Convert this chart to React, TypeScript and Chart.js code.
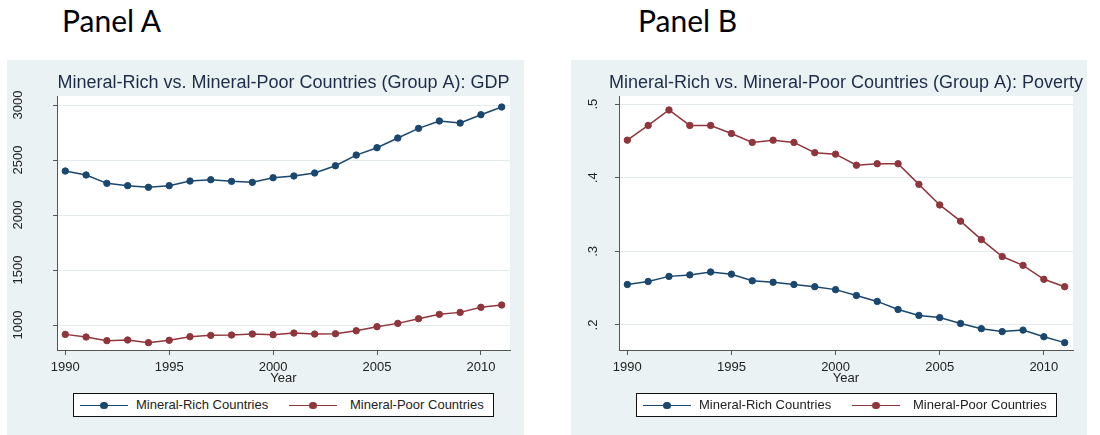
import React, { useEffect, useRef } from 'react';
import { Chart, registerables } from 'chart.js';

Chart.register(...registerables);

const YEARS = [1990, 1991, 1992, 1993, 1994, 1995, 1996, 1997, 1998, 1999, 2000, 2001, 2002, 2003, 2004, 2005, 2006, 2007, 2008, 2009, 2010, 2011];
const GDP_RICH = [2400, 2364, 2288, 2267, 2252, 2267, 2309, 2321, 2306, 2297, 2339, 2355, 2382, 2448, 2545, 2612, 2700, 2788, 2855, 2836, 2912, 2982];
const GDP_POOR = [915, 891, 858, 864, 840, 861, 894, 906, 909, 918, 912, 927, 918, 921, 948, 985, 1015, 1058, 1097, 1115, 1161, 1182];
const POV_RICH = [0.255, 0.259, 0.266, 0.268, 0.272, 0.269, 0.26, 0.258, 0.255, 0.252, 0.248, 0.24, 0.232, 0.221, 0.213, 0.21, 0.202, 0.195, 0.191, 0.193, 0.184, 0.176];
const POV_POOR = [0.451, 0.471, 0.492, 0.471, 0.471, 0.46, 0.448, 0.451, 0.448, 0.434, 0.432, 0.417, 0.419, 0.419, 0.391, 0.363, 0.341, 0.316, 0.293, 0.281, 0.262, 0.252];

const X_TICKS = [1990, 1995, 2000, 2005, 2010];
const GDP_TICKS = [1000, 1500, 2000, 2500, 3000];
const GDP_TICK_LABELS = ['1000', '1500', '2000', '2500', '3000'];
const POV_TICKS = [0.2, 0.3, 0.4, 0.5];
const POV_TICK_LABELS = ['.2', '.3', '.4', '.5'];
const SERIES_LABELS = ['Mineral-Rich Countries', 'Mineral-Poor Countries'];
const TITLE_A = 'Mineral-Rich vs. Mineral-Poor Countries (Group A): GDP';
const TITLE_B = 'Mineral-Rich vs. Mineral-Poor Countries (Group A): Poverty';
const X_TITLE = 'Year';

const NAVY = '#1a476f';
const MAROON = '#90353b';
const BG = '#eaf2f3';
const GRID = '#e3ebed';
const AXIS = '#555555';
const TEXT = '#222222';
const TITLE_COLOR = '#1e2c4a';
const FONT = '"Liberation Sans", Arial, Helvetica, sans-serif';

const plotDecor = {
  id: 'plotDecor',
  beforeDraw(chart: any) {
    const { ctx, chartArea } = chart;
    if (!chartArea) return;
    ctx.save();
    ctx.fillStyle = '#ffffff';
    ctx.fillRect(chartArea.left, chartArea.top, chartArea.right - chartArea.left, chartArea.bottom - chartArea.top);
    ctx.restore();
  },
  afterDraw(chart: any, _args: any, opts: any) {
    const { ctx, chartArea } = chart;
    if (!chartArea || !opts || !opts.text) return;
    ctx.save();
    ctx.font = `normal ${opts.size}px ${FONT}`;
    ctx.fillStyle = opts.color;
    ctx.textAlign = 'center';
    ctx.textBaseline = 'middle';
    ctx.fillText(opts.text, (chartArea.left + chartArea.right) / 2, opts.y);
    ctx.restore();
  },
};

type PanelProps = {
  left: number;
  width: number;
  axisWidth: number;
  padRight: number;
  title: string;
  rich: number[];
  poor: number[];
  yTicks: number[];
  yLabels: string[];
  yMin: number;
  yMax: number;
  yPad: number;
};

function PanelChart(p: PanelProps) {
  const ref = useRef<HTMLCanvasElement | null>(null);
  useEffect(() => {
    if (!ref.current) return;
    const tickFont = { family: FONT, size: 13 };
    const mk = (label: string, vals: number[], color: string) => ({
      label,
      data: YEARS.map((x, i) => ({ x, y: vals[i] })),
      borderColor: color,
      backgroundColor: color,
      borderWidth: 1.5,
      pointRadius: 3.2,
      pointBorderWidth: 1,
      pointBackgroundColor: color,
      pointBorderColor: color,
      tension: 0,
      fill: false,
    });
    const chart = new Chart(ref.current, {
      type: 'line',
      data: {
        datasets: [mk(SERIES_LABELS[0], p.rich, NAVY), mk(SERIES_LABELS[1], p.poor, MAROON)],
      },
      plugins: [plotDecor],
      options: {
        responsive: false,
        animation: false,
        devicePixelRatio: 1,
        layout: { padding: { left: 0, right: p.padRight, top: 36, bottom: 45 } },
        plugins: {
          legend: { display: false },
          tooltip: { enabled: false },
          title: { display: false },
          plotDecor: { text: p.title, size: 18, color: TITLE_COLOR, y: 23 },
        },
        scales: {
          x: {
            type: 'linear',
            min: 1989.6,
            max: 2011.4,
            afterBuildTicks: (s: any) => {
              s.ticks = X_TICKS.map((v) => ({ value: v }));
            },
            afterFit: (s: any) => {
              s.height = 40;
            },
            grid: { display: true, drawOnChartArea: false, drawTicks: true, tickLength: 5, tickColor: AXIS },
            border: { display: true, color: AXIS, width: 1 },
            ticks: {
              font: tickFont,
              color: TEXT,
              padding: 4.2,
              maxRotation: 0,
              autoSkip: false,
              callback: (v: any) => String(v),
            },
            title: {
              display: true,
              text: X_TITLE,
              font: tickFont,
              color: TEXT,
              padding: { top: 0, bottom: 4.2 },
            },
          },
          y: {
            type: 'linear',
            min: p.yMin,
            max: p.yMax,
            afterBuildTicks: (s: any) => {
              s.ticks = p.yTicks.map((v) => ({ value: v }));
            },
            afterFit: (s: any) => {
              s.width = p.axisWidth;
            },
            grid: { display: true, color: GRID, drawTicks: true, tickLength: 4, tickColor: AXIS },
            border: { display: true, color: AXIS, width: 1 },
            ticks: {
              font: tickFont,
              color: TEXT,
              minRotation: 90,
              maxRotation: 90,
              crossAlign: 'center',
              padding: p.yPad,
              autoSkip: false,
              callback: (_v: any, i: number) => p.yLabels[i],
            },
          },
        },
      } as any,
    });
    return () => chart.destroy();
  }, []);
  return (
    <canvas
      ref={ref}
      width={p.width}
      height={375}
      style={{ position: 'absolute', left: p.left, top: 60, width: p.width, height: 375 }}
    />
  );
}

function Legend({ left }: { left: number }) {
  const item = (color: string, sampleLeft: number, textLeft: number, text: string) => (
    <>
      <div style={{ position: 'absolute', left: sampleLeft, top: 10.5, width: 48, height: 1.5, background: color }} />
      <div
        style={{
          position: 'absolute',
          left: sampleLeft + 24 - 3.75,
          top: 7.5,
          width: 7.5,
          height: 7.5,
          borderRadius: '50%',
          background: color,
        }}
      />
      <div
        style={{
          position: 'absolute',
          left: textLeft,
          top: 0,
          height: 22,
          lineHeight: '22px',
          fontFamily: FONT,
          fontSize: 13,
          color: TEXT,
          whiteSpace: 'nowrap',
        }}
      >
        {text}
      </div>
    </>
  );
  return (
    <div
      style={{
        position: 'absolute',
        left,
        top: 393,
        width: 421,
        height: 24,
        boxSizing: 'border-box',
        border: '1px solid #111',
        background: '#fff',
      }}
    >
      {item(NAVY, 6, 62, SERIES_LABELS[0])}
      {item(MAROON, 215, 276, SERIES_LABELS[1])}
    </div>
  );
}

export default function App() {
  const heading = (left: number, text: string) => (
    <div
      style={{
        position: 'absolute',
        left,
        top: 5,
        fontFamily: 'Lato, "Open Sans", sans-serif',
        fontSize: 30,
        lineHeight: '30px',
        color: '#000',
        whiteSpace: 'nowrap',
      }}
    >
      {text}
    </div>
  );
  return (
    <div style={{ position: 'absolute', left: 0, top: 0, width: 1100, height: 435, overflow: 'hidden', background: '#fff' }}>
      {heading(62, 'Panel A')}
      {heading(638, 'Panel B')}
      <div style={{ position: 'absolute', left: 7, top: 60, width: 517, height: 375, background: BG }} />
      <div style={{ position: 'absolute', left: 571, top: 60, width: 516, height: 375, background: BG }} />
      <PanelChart
        left={7}
        width={553}
        axisWidth={50}
        padRight={50}
        title={TITLE_A}
        rich={GDP_RICH}
        poor={GDP_POOR}
        yTicks={GDP_TICKS}
        yLabels={GDP_TICK_LABELS}
        yMin={773}
        yMax={3082}
        yPad={20.5}
      />
      <PanelChart
        left={571}
        width={550}
        axisWidth={48}
        padRight={48}
        title={TITLE_B}
        rich={POV_RICH}
        poor={POV_POOR}
        yTicks={POV_TICKS}
        yLabels={POV_TICK_LABELS}
        yMin={0.166}
        yMax={0.511}
        yPad={16.6}
      />
      <Legend left={73} />
      <Legend left={636} />
    </div>
  );
}
